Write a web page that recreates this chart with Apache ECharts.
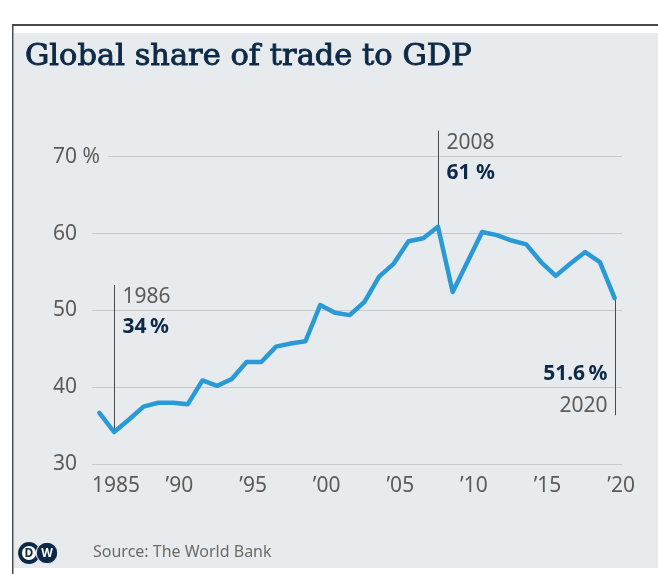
<!DOCTYPE html>
<html>
<head>
<meta charset="utf-8">
<script src="https://cdn.jsdelivr.net/npm/echarts@6/dist/echarts.min.js"></script>
<style>
  html, body { margin: 0; padding: 0; background: #ffffff; }
  #chart { width: 658px; height: 574px; }
</style>
</head>
<body>
<div id="chart"></div>
<script>
// ---- data ----
const years = [1985, 1986, 1987, 1988, 1989, 1990, 1991, 1992, 1993, 1994,
               1995, 1996, 1997, 1998, 1999, 2000, 2001, 2002, 2003, 2004,
               2005, 2006, 2007, 2008, 2009, 2010, 2011, 2012, 2013, 2014,
               2015, 2016, 2017, 2018, 2019, 2020];
const tradeShare = [36.7, 34.2, 35.8, 37.5, 38.0, 38.0, 37.8, 40.9, 40.2, 41.1,
                    43.3, 43.3, 45.3, 45.7, 46.0, 50.7, 49.7, 49.4, 51.1, 54.4,
                    56.1, 59.0, 59.4, 60.9, 52.4, 56.3, 60.2, 59.8, 59.1, 58.6,
                    56.3, 54.5, 56.1, 57.6, 56.3, 51.6];
const xTickYears = [1985, 1990, 1995, 2000, 2005, 2010, 2015, 2020];
const xTickLabels = ['1985', '\u201990', '\u201995', '\u201900', '\u201905', '\u201910', '\u201915', '\u201920'];
const yTickValues = [30, 40, 50, 60, 70];
const yTickLabels = ['30', '40', '50', '60', '70 %'];
const annYears = [1986, 2008, 2020];
const annValueText = ['34\u2009%', '61 %', '51.6\u2009%'];
const annYearText = ['1986', '2008', '2020'];

// ---- style ----
const BG = '#e8ebee';
const NAVY = '#0c2a47';
const GREY = '#5b5b5b';
const FONT = 'Noto Sans';

const chart = echarts.init(document.getElementById('chart'), null, { renderer: 'canvas' });

const seriesData = years.map((y, i) => [y, tradeShare[i]]);

chart.setOption({
  backgroundColor: '#ffffff',
  animation: false,
  title: {
    text: 'Global share of trade to GDP',
    left: 20,
    top: 37,
    textStyle: {
      fontFamily: 'DejaVu Serif',
      fontWeight: 'normal',
      fontSize: 30.5,
      color: NAVY,
      textBorderColor: NAVY,
      textBorderWidth: 0.9
    }
  },
  grid: {
    left: 92, right: 36, top: 156.7, bottom: 109.7,
    containLabel: false,
    outerBoundsMode: 'none'
  },
  xAxis: {
    type: 'value',
    min: 1984.5,
    max: 2020.5,
    axisLine: { show: false },
    axisTick: { show: false },
    splitLine: { show: false },
    axisLabel: {
      customValues: xTickYears.map(y => y - 0.5),
      align: 'left',
      margin: 11,
      fontFamily: FONT,
      fontSize: 21,
      color: GREY,
      formatter: function (v) {
        const idx = xTickYears.indexOf(Math.round(v + 0.5));
        return idx >= 0 ? xTickLabels[idx] : '';
      }
    }
  },
  yAxis: {
    type: 'value',
    min: 30,
    max: 70,
    interval: 10,
    axisLine: { show: false },
    axisTick: { show: false },
    splitLine: { show: true, lineStyle: { color: '#c6c9cd', width: 1 } },
    axisLabel: {
      align: 'left',
      margin: 39,
      verticalAlign: 'middle',
      padding: [0, 8, 16, 0],
      backgroundColor: BG,
      fontFamily: FONT,
      fontSize: 21,
      color: GREY,
      formatter: function (v) {
        const idx = yTickValues.indexOf(v);
        return idx >= 0 ? yTickLabels[idx] : '';
      }
    }
  },
  series: [{
    type: 'line',
    data: seriesData,
    showSymbol: false,
    symbol: 'none',
    smooth: false,
    lineStyle: { color: '#2a9ad7', width: 4.5, join: 'round', cap: 'round' },
    z: 3
  }]
});

// ---- decorations & annotations ----
const annLineLen = [147, 96, 117];
const annDir = ['up', 'up', 'down'];
const graphics = [
  { type: 'rect', z: -10, silent: true, shape: { x: 14, y: 33, width: 644, height: 535 }, style: { fill: BG } },
  { type: 'rect', z: -9, silent: true, shape: { x: 12, y: 24, width: 646, height: 2 }, style: { fill: '#4a4a4a' } },
  { type: 'rect', z: -9, silent: true, shape: { x: 12, y: 24, width: 1.5, height: 550 }, style: { fill: '#4a4a4a' } },
  // source
  { type: 'text', z: 5, x: 93, y: 552, style: { text: 'Source: The World Bank', fontFamily: FONT, fontSize: 16, fill: '#6a6a6a', verticalAlign: 'middle' } },
  // DW logo
  { type: 'circle', z: 5, shape: { cx: 29, cy: 553, r: 9 }, style: { fill: '#ffffff', stroke: NAVY, lineWidth: 3.8 } },
  { type: 'text', z: 6, x: 29, y: 553.5, style: { text: 'D', fontFamily: FONT, fontWeight: 'bold', fontSize: 12, fill: NAVY, align: 'center', verticalAlign: 'middle' } },
  { type: 'circle', z: 7, shape: { cx: 47, cy: 553, r: 10.8 }, style: { fill: NAVY, stroke: '#ffffff', lineWidth: 1 } },
  { type: 'text', z: 8, x: 47, y: 553.5, style: { text: 'W', fontFamily: FONT, fontWeight: 'bold', fontSize: 12, fill: '#ffffff', align: 'center', verticalAlign: 'middle' } }
];

annYears.forEach(function (yr, i) {
  const idx = years.indexOf(yr);
  const p = chart.convertToPixel({ gridIndex: 0 }, [yr, tradeShare[idx]]);
  const x = Math.round(p[0]) + 0.5;
  if (annDir[i] === 'up') {
    const top = p[1] - annLineLen[i];
    graphics.push({ type: 'line', z: 2, shape: { x1: x, y1: top, x2: x, y2: p[1] }, style: { stroke: '#4a4a4a', lineWidth: 1 } });
    graphics.push({ type: 'text', z: 4, x: x + 8, y: top + 12, style: { text: annYearText[i], fontFamily: FONT, fontSize: 21, fill: GREY, align: 'left', verticalAlign: 'middle' } });
    graphics.push({ type: 'text', z: 4, x: x + 8, y: top + 42, style: { text: annValueText[i], fontFamily: FONT, fontWeight: 'bold', fontSize: 21, fill: NAVY, align: 'left', verticalAlign: 'middle' } });
  } else {
    const bottom = p[1] + annLineLen[i];
    graphics.push({ type: 'line', z: 2, shape: { x1: x, y1: p[1], x2: x, y2: bottom }, style: { stroke: '#4a4a4a', lineWidth: 1 } });
    graphics.push({ type: 'text', z: 4, x: x - 8, y: bottom - 9, style: { text: annYearText[i], fontFamily: FONT, fontSize: 21, fill: GREY, align: 'right', verticalAlign: 'middle' } });
    graphics.push({ type: 'text', z: 4, x: x - 8, y: bottom - 41, style: { text: annValueText[i], fontFamily: FONT, fontWeight: 'bold', fontSize: 21, fill: NAVY, align: 'right', verticalAlign: 'middle' } });
  }
});

chart.setOption({ graphic: { elements: graphics } });
</script>
</body>
</html>
